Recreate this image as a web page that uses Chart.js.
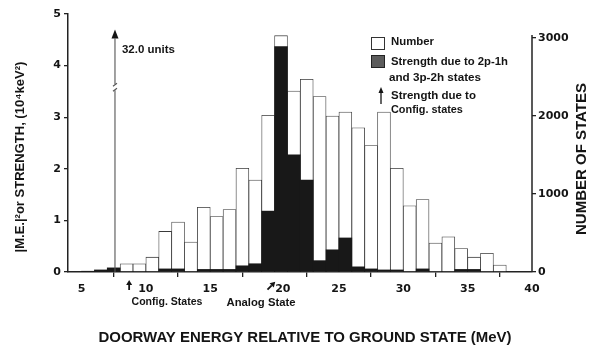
<!DOCTYPE html>
<html><head><meta charset="utf-8">
<script src="https://cdn.jsdelivr.net/npm/chart.js@4"></script>
<style>html,body{margin:0;padding:0;background:#fff}#wrap{width:591px;height:352px;position:relative}</style>
</head><body><div id="wrap"><canvas id="c" width="591" height="352"></canvas></div>
<script>
// ---- data ----
const binStart = [5,6,7,8,9,10,11,12,13,14,15,16,17,18,19,20,21,22,23,24,25,26,27,28,29,30,31,32,33,34,35,36,37];
const numberOfStates = [null,null,null,105,105,190,520,640,385,830,710,800,1330,1180,2010,3030,2320,2470,2250,2000,2050,1850,1620,2050,1330,850,930,370,450,300,190,240,90];
const strength = [0.015,0.04,0.08,0,0,0,0.06,0.06,0,0.05,0.05,0.05,0.12,0.16,1.18,4.37,2.27,1.78,0.22,0.43,0.66,0.10,0.06,0.04,0.04,0,0.06,0,0,0.05,0.05,0,0];
const leftTicks = [0,1,2,3,4,5];
const rightTicks = [0,1000,2000,3000];
const bottomTicks = [5,10,15,20,25,30,35,40];
const configStateEnergy = 7.6;      // MeV, off-scale strength shown by arrow
const configStateStrength = 32.0;   // units
const configMarkerEnergy = 8.7;
const analogStateEnergy = 19.8;

const FONT = '"DejaVu Sans", sans-serif';
const TFONT = '"Liberation Sans", Arial, sans-serif';
const INK = '#141414';

function fitFont(ctx, text, width, weight) {
  ctx.font = `${weight} 20px ${TFONT}`;
  const s = 20 * width / ctx.measureText(text).width;
  return `${weight} ${s.toFixed(2)}px ${TFONT}`;
}
function drawText(ctx, text, x, y, width, align, rot) {
  ctx.save();
  ctx.translate(x, y);
  if (rot) ctx.rotate(rot);
  ctx.font = fitFont(ctx, text, width, 'bold');
  ctx.fillStyle = INK;
  ctx.textAlign = align || 'left';
  ctx.textBaseline = 'middle';
  ctx.fillText(text, 0, 0);
  ctx.restore();
}
function upArrow(ctx, x, yBottom, yTop, head, w) {
  ctx.beginPath();
  ctx.moveTo(x, yBottom); ctx.lineTo(x, yTop + head);
  ctx.stroke();
  ctx.beginPath();
  ctx.moveTo(x, yTop); ctx.lineTo(x - w, yTop + head); ctx.lineTo(x + w, yTop + head); ctx.closePath();
  ctx.fill();
}

const annot = {
  id: 'annot',
  afterDatasetsDraw(chart) {
    const ctx = chart.ctx;
    const xs = chart.scales.x, y = chart.scales.y, y1 = chart.scales.y1;
    ctx.save();
    // right axis line (stops just above 3000)
    ctx.strokeStyle = '#222'; ctx.lineWidth = 1.5;
    ctx.beginPath();
    ctx.moveTo(xs.right, y1.getPixelForValue(0));
    ctx.lineTo(xs.right, y1.getPixelForValue(3040));
    ctx.stroke();

    // off-scale config-state strength arrow
    const ax = xs.getPixelForValue(configStateEnergy);
    const yb = y.getPixelForValue(0), yt = y.getPixelForValue(4.7);
    const brk = y.getPixelForValue(3.58);
    ctx.strokeStyle = '#555'; ctx.fillStyle = INK; ctx.lineWidth = 1.1;
    ctx.beginPath(); ctx.moveTo(ax, yb); ctx.lineTo(ax, brk + 3); ctx.stroke();
    ctx.beginPath(); ctx.moveTo(ax - 2, brk + 4); ctx.lineTo(ax + 2, brk + 1); ctx.stroke();
    ctx.beginPath(); ctx.moveTo(ax - 2, brk - 1); ctx.lineTo(ax + 2, brk - 4); ctx.stroke();
    upArrow(ctx, ax, brk - 3, yt, 9, 3.5);
    drawText(ctx, configStateStrength.toFixed(1) + ' units', ax + 7, y.getPixelForValue(4.3), 53, 'left');

    // legend
    const lx = 371;
    ctx.lineWidth = 1; ctx.strokeStyle = '#333';
    ctx.fillStyle = '#fff'; ctx.fillRect(lx, 37, 14, 13); ctx.strokeRect(lx + 0.5, 37.5, 13, 12);
    ctx.fillStyle = '#5c5c5c'; ctx.fillRect(lx, 55, 14, 13); ctx.strokeStyle = '#222'; ctx.strokeRect(lx + 0.5, 55.5, 13, 12);
    ctx.fillStyle = INK; ctx.strokeStyle = INK; ctx.lineWidth = 1.3;
    upArrow(ctx, 381, 104, 87, 6, 2.5);
    drawText(ctx, 'Number', 391, 42, 43);
    drawText(ctx, 'Strength due to 2p-1h', 391, 61.5, 117);
    drawText(ctx, 'and 3p-2h states', 389, 78, 92);
    drawText(ctx, 'Strength due to', 391, 95.5, 85);
    drawText(ctx, 'Config. states', 391, 110, 72);

    // markers under the axis
    ctx.fillStyle = INK; ctx.strokeStyle = INK; ctx.lineWidth = 1.8;
    const cx = xs.getPixelForValue(configMarkerEnergy);
    upArrow(ctx, cx, 290, 280, 5, 3);
    const gx = xs.getPixelForValue(analogStateEnergy);
    ctx.save(); ctx.translate(gx - 1, 286); ctx.rotate(Math.PI / 4);
    upArrow(ctx, 0, 5, -6, 5, 3); ctx.restore();
    drawText(ctx, 'Config. States', 167, 302.5, 71, 'center');
    drawText(ctx, 'Analog State', 261, 303, 69, 'center');

    // axis titles
    drawText(ctx, 'DOORWAY ENERGY RELATIVE TO GROUND STATE (MeV)', 305, 338, 413, 'center');
    drawText(ctx, '|M.E.|\u00B2or STRENGTH, (10\u2074keV\u00B2)', 20, 157, 191, 'center', -Math.PI / 2);
    drawText(ctx, 'NUMBER OF STATES', 582, 159, 152, 'center', -Math.PI / 2);
    ctx.restore();
  }
};

const tickFont = { family: FONT, size: 11, weight: 'bold' };
new Chart(document.getElementById('c'), {
  type: 'bar',
  data: {
    datasets: [
      {
        label: 'Strength due to 2p-1h and 3p-2h states',
        data: binStart.map((b, i) => ({ x: b + 0.5, y: strength[i] })),
        yAxisID: 'y', order: 0, grouped: false,
        backgroundColor: '#181818', borderColor: '#181818', borderWidth: 0,
        barPercentage: 1, categoryPercentage: 1
      },
      {
        label: 'Number',
        data: binStart.map((b, i) => ({ x: b + 0.5, y: numberOfStates[i] })),
        yAxisID: 'y1', order: 1, grouped: false,
        backgroundColor: '#ffffff', borderColor: '#3a3a3a', borderWidth: 0.8,
        barPercentage: 1, categoryPercentage: 1
      }
    ]
  },
  options: {
    responsive: false, animation: false, devicePixelRatio: 1,
    layout: { padding: { top: 14, left: 0, right: 0, bottom: 0 } },
    plugins: { legend: { display: false }, tooltip: { enabled: false } },
    scales: {
      x: {
        type: 'linear', min: 3.95, max: 40, offset: false,
        afterBuildTicks: (a) => { a.ticks = bottomTicks.map(v => ({ value: v })); },
        afterFit: (s) => { s.height = 80; },
        ticks: {
          font: tickFont, color: INK, padding: 6, maxRotation: 0, autoSkip: false,
          callback: (v) => (v === 20 ? '\u2002\u2002\u2002' + v : String(v))
        },
        grid: { drawOnChartArea: false, drawTicks: true, tickLength: 5, color: '#222', lineWidth: 1.3 },
        border: { color: '#222', width: 1.5 }
      },
      y: {
        position: 'left', min: 0, max: 5,
        afterBuildTicks: (a) => { a.ticks = leftTicks.map(v => ({ value: v })); },
        afterFit: (s) => { s.width = 68; },
        ticks: { font: tickFont, color: INK, padding: 3, callback: (v) => String(v) },
        grid: { drawOnChartArea: false, drawTicks: true, tickLength: 4, color: '#222', lineWidth: 1.3 },
        border: { color: '#222', width: 1.5 }
      },
      y1: {
        position: 'right', min: 0, max: 3308,
        afterBuildTicks: (a) => { a.ticks = rightTicks.map(v => ({ value: v })); },
        afterFit: (s) => { s.width = 59; },
        ticks: { font: tickFont, color: INK, padding: 2, callback: (v) => String(v) },
        grid: { drawOnChartArea: false, drawTicks: true, tickLength: 4, color: '#222', lineWidth: 1.3 },
        border: { display: false }
      }
    }
  },
  plugins: [annot]
});
</script></body></html>
